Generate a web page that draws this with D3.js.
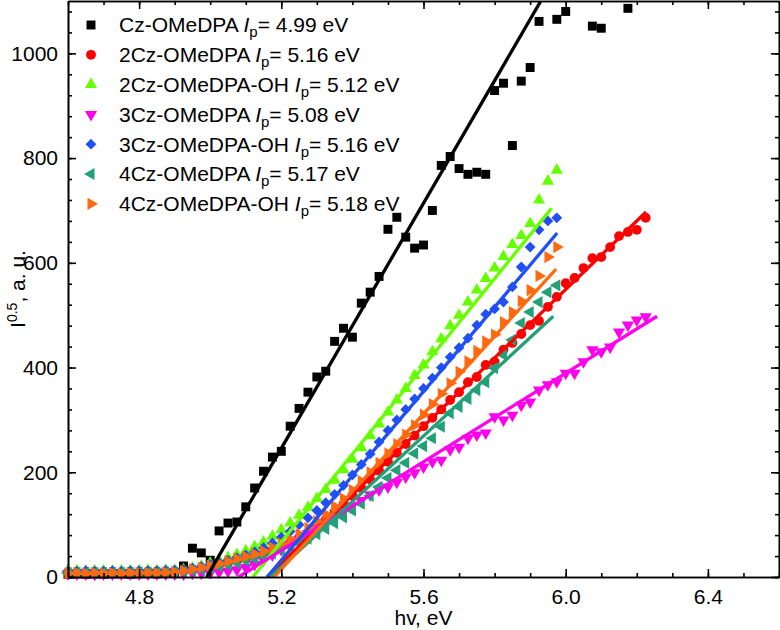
<!DOCTYPE html>
<html>
<head>
<meta charset="utf-8">
<script src="https://cdn.jsdelivr.net/npm/d3@7"></script>
<style>
  html, body { margin: 0; padding: 0; background: #fff; }
  svg { display: block; }
  text { font-family: "Liberation Sans", Arial, sans-serif; }
</style>
</head>
<body>
<svg id="chart" width="780" height="630"></svg>
<script>
// ---------------- DATA ----------------
const energy = [4.600,4.625,4.650,4.675,4.700,4.725,4.750,4.775,4.800,4.825,4.850,4.875,4.900,4.925,4.950,4.975,5.000,5.025,5.050,5.075,5.100,5.125,5.150,5.175,5.200,5.225,5.250,5.275,5.300,5.325,5.350,5.375,5.400,5.425,5.450,5.475,5.500,5.525,5.550,5.575,5.600,5.625,5.650,5.675,5.700,5.725,5.750,5.775,5.800,5.825,5.850,5.875,5.900,5.925,5.950,5.975,6.000,6.025,6.050,6.075,6.100,6.125,6.150,6.175,6.200,6.225];

const seriesNames = ["Cz-OMeDPA", "2Cz-OMeDPA", "2Cz-OMeDPA-OH", "3Cz-OMeDPA", "3Cz-OMeDPA-OH", "4Cz-OMeDPA", "4Cz-OMeDPA-OH"];
const ipValues = ["4.99", "5.16", "5.12", "5.08", "5.16", "5.17", "5.18"];

const czOMeDPA = [5,6,5,6,5,6,6,5,6,7,6,7,8,21,55,46,32,88,103,105,134,170,202,229,240,288,322,353,382,393,450,475,458,523,544,574,664,687,649,628,634,700,786,803,780,769,773,769,929,943,824,947,973,1061,null,1065,1080,null,null,1052,1048,null,null,1086,null,null];
const cz2OMeDPA = [9,9,8,9,9,9,8,9,9,9,10,10,10,12,14,17,20,23,27,31,35,40,45,51,58,66,75,85,97,110,124,139,155,170,186,203,220,237,254,270,288,304,320,338,353,372,382,405,411,434,447,464,481,489,516,535,561,571,590,609,611,630,651,659,663,686];
const cz2OMeDPAOH = [12,12,11,12,12,11,12,12,12,13,12,13,13,14,17,21,26,31,37,43,50,58,67,78,90,103,118,133,150,167,185,205,225,247,270,292,315,338,360,385,405,430,455,480,500,525,548,570,590,612,635,652,675,720,756,777,null,null,null,null,null,null,null,null,null,null];
const cz3OMeDPA = [6,6,6,5,6,6,6,6,6,6,6,6,6,6,7,7,8,9,11,14,18,24,32,42,52,62,72,83,93,103,114,125,136,146,157,166,172,181,191,199,210,220,223,243,248,265,271,275,306,300,309,328,334,357,367,373,389,389,411,434,430,439,468,481,491,497];
const cz3OMeDPAOH = [11,11,12,11,11,12,11,12,12,12,12,13,13,14,17,20,24,28,32,37,42,48,56,65,76,87,100,113,127,142,158,175,195,215,235,258,280,300,320,340,360,380,400,420,438,456,481,502,512,525,554,592,630,663,680,686,null,null,null,null,null,null,null,null,null,null];
const cz4OMeDPA = [8,8,8,8,8,8,8,8,9,9,9,9,9,10,12,14,17,20,23,27,31,35,40,45,51,58,65,73,82,92,103,114,127,140,155,172,189,204,218,236,250,265,287,313,325,340,357,372,399,424,453,485,506,525,544,557,null,null,null,null,null,null,null,null,null,null];
const cz4OMeDPAOH = [7,8,7,8,7,8,7,8,8,8,8,9,10,12,15,18,22,26,30,35,39,44,49,56,64,72,82,94,107,120,135,150,166,183,200,218,236,254,272,290,310,330,350,370,392,412,432,450,463,487,506,527,548,575,611,630,null,null,null,null,null,null,null,null,null,null];

// linear fits: start (x at zero intensity = Ip) and end point
const fitStartX = [4.99, 5.16, 5.12, 5.08, 5.16, 5.17, 5.18];
const fitEndX   = [5.93, 6.226, 5.96, 6.257, 5.976, 5.965, 5.973];
const fitEndY   = [1100, 697, 704, 498, 657, 498, 588];

const xTicks = [4.8, 5.2, 5.6, 6.0, 6.4];
const yTicks = [0, 200, 400, 600, 800, 1000];

// ---------------- STYLE ----------------
const allSeries = [czOMeDPA, cz2OMeDPA, cz2OMeDPAOH, cz3OMeDPA, cz3OMeDPAOH, cz4OMeDPA, cz4OMeDPAOH];
const colors = ["#000000", "#ff0000", "#66ff00", "#ff00ee", "#2050f5", "#22a078", "#ff6a10"];
const symbols = [
  {type: d3.symbolSquare, size: 80, rot: 0},
  {type: d3.symbolCircle, size: 76, rot: 0},
  {type: d3.symbolTriangle, size: 64, rot: 0},
  {type: d3.symbolTriangle, size: 64, rot: 180},
  {type: d3.symbolSquare, size: 58, rot: 45},
  {type: d3.symbolTriangle, size: 64, rot: -90},
  {type: d3.symbolTriangle, size: 64, rot: 90}
];

const svg = d3.select("#chart");
const L = 68, R = 779, T = 1, B = 577;
const x = d3.scaleLinear().domain([4.6, 6.6]).range([L, R]);
const y = d3.scaleLinear().domain([0, 1100]).range([B, T]);

svg.append("defs").append("clipPath").attr("id", "clip")
  .append("rect").attr("x", L).attr("y", T).attr("width", R - L).attr("height", B - T);

// markers
const markG = svg.append("g");
allSeries.forEach((vals, si) => {
  const sym = symbols[si];
  const path = d3.symbol().type(sym.type).size(sym.size)();
  const pts = energy.map((e, i) => [e, vals[i]]).filter(d => d[1] !== null && d[1] !== undefined);
  markG.append("g").selectAll("path").data(pts).enter().append("path")
    .attr("d", path)
    .attr("transform", d => `translate(${x(d[0])},${y(d[1])}) rotate(${sym.rot})`)
    .attr("fill", colors[si]);
});

// fit lines
const lineG = svg.append("g").attr("clip-path", "url(#clip)");
const lineGen = d3.line().x(d => x(d[0])).y(d => y(d[1]));
fitStartX.forEach((x0, si) => {
  lineG.append("path")
    .attr("d", lineGen([[x0, 0], [fitEndX[si], fitEndY[si]]]))
    .attr("stroke", colors[si]).attr("stroke-width", 3.3).attr("fill", "none");
});

// axes
const fontSize = 21;
function styleAxis(g) {
  g.selectAll("path.domain").attr("stroke", "#000").attr("stroke-width", 1.6);
  g.selectAll(".tick line").attr("stroke", "#000").attr("stroke-width", 1.6);
  g.selectAll("text").attr("font-size", fontSize).attr("fill", "#000")
    .attr("font-family", "'Liberation Sans', Arial, sans-serif");
}
const xMinor = d3.range(4.6, 6.61, 0.1).map(v => +v.toFixed(2));
const yMinor = d3.range(0, 1101, 40);

// bottom
svg.append("g").attr("transform", `translate(0,${B})`)
  .call(d3.axisBottom(x).tickValues(xMinor).tickSize(-4).tickSizeOuter(0).tickFormat(""))
  .call(styleAxis);
svg.append("g").attr("transform", `translate(0,${B})`)
  .call(d3.axisBottom(x).tickValues(xTicks).tickSize(-8).tickSizeOuter(0).tickPadding(12).tickFormat(d3.format(".1f")))
  .call(styleAxis);
// top
svg.append("g").attr("transform", `translate(0,${T})`)
  .call(d3.axisTop(x).tickValues(xMinor).tickSize(-4).tickSizeOuter(0).tickFormat(""))
  .call(styleAxis);
svg.append("g").attr("transform", `translate(0,${T})`)
  .call(d3.axisTop(x).tickValues(xTicks).tickSize(-8).tickSizeOuter(0).tickFormat(""))
  .call(styleAxis);
// left
svg.append("g").attr("transform", `translate(${L},0)`)
  .call(d3.axisLeft(y).tickValues(yMinor).tickSize(-4).tickSizeOuter(0).tickFormat(""))
  .call(styleAxis);
svg.append("g").attr("transform", `translate(${L},0)`)
  .call(d3.axisLeft(y).tickValues(yTicks).tickSize(-8).tickSizeOuter(0).tickPadding(10).tickFormat(d3.format("d")))
  .call(styleAxis);
// right
svg.append("g").attr("transform", `translate(${R},0)`)
  .call(d3.axisRight(y).tickValues(yMinor).tickSize(-4).tickSizeOuter(0).tickFormat(""))
  .call(styleAxis);
svg.append("g").attr("transform", `translate(${R},0)`)
  .call(d3.axisRight(y).tickValues(yTicks).tickSize(-8).tickSizeOuter(0).tickFormat(""))
  .call(styleAxis);

// axis titles
svg.append("text").attr("x", (L + R) / 2).attr("y", 625).attr("text-anchor", "middle")
  .attr("font-size", fontSize).text("hv, eV");
const yt = svg.append("text").attr("transform", `translate(25,${(T + B) / 2}) rotate(-90)`)
  .attr("text-anchor", "middle").attr("font-size", fontSize);
yt.append("tspan").text("I");
yt.append("tspan").attr("dy", -8).attr("font-size", 14).text("0.5");
yt.append("tspan").attr("dy", 8).text(", a. u.");

// legend
const legG = svg.append("g");
seriesNames.forEach((name, si) => {
  const cy = 25 + si * 29.8;
  const sym = symbols[si];
  legG.append("path").attr("d", d3.symbol().type(sym.type).size(sym.size)())
    .attr("transform", `translate(91,${cy}) rotate(${sym.rot})`).attr("fill", colors[si]);
  const t = legG.append("text").attr("x", 119).attr("y", cy).attr("dy", "0.35em")
    .attr("font-size", fontSize).attr("fill", "#000");
  t.append("tspan").text(name + " ");
  t.append("tspan").attr("font-style", "italic").text("I");
  t.append("tspan").attr("dy", 5).attr("font-size", 15).text("p");
  t.append("tspan").attr("dy", -5).text("= " + ipValues[si] + " eV");
});
</script>
</body>
</html>
